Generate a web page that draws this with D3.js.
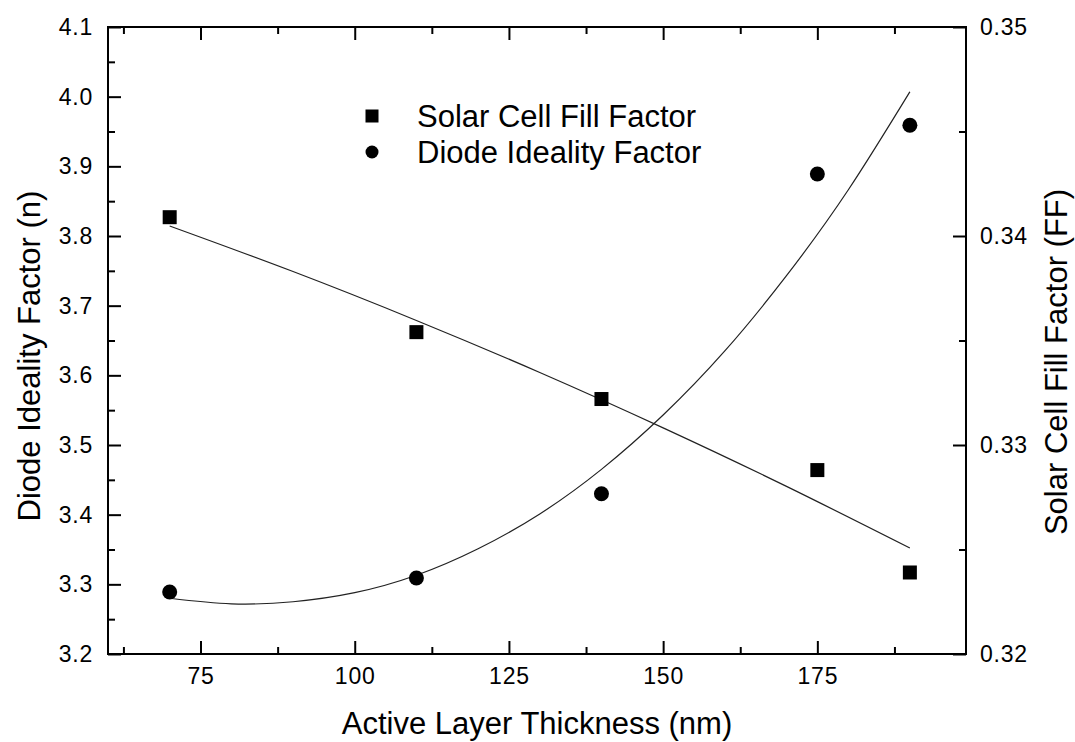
<!DOCTYPE html>
<html>
<head>
<meta charset="utf-8">
<script src="https://cdn.jsdelivr.net/npm/d3@7"></script>
<style>
  html, body { margin: 0; padding: 0; background: #fff; }
  svg { display: block; font-family: "Liberation Sans", Arial, sans-serif; }
</style>
</head>
<body>
<svg id="chart" width="1075" height="742"></svg>
<script>
// ---- data ----
const thickness = [70, 110, 140, 175, 190];
const fillFactor = [0.3409, 0.3354, 0.3322, 0.3288, 0.3239];
const ideality = [3.289, 3.309, 3.430, 3.889, 3.959];

// fitted curves
const idealityFitX = [70, 80, 90, 100, 110, 120, 130, 140, 150, 160, 170, 180, 190];
const idealityFit = [3.280, 3.272, 3.275, 3.288, 3.313, 3.351, 3.401, 3.465, 3.543, 3.635, 3.743, 3.866, 4.007];
const ffFitX = [70, 90, 110, 130, 150, 170, 190];
const ffFit = [0.34048, 0.33830, 0.33596, 0.33347, 0.33082, 0.32802, 0.32507];

// ticks
const xTicks = [75, 100, 125, 150, 175];
const xMinor = [62.5, 87.5, 112.5, 137.5, 162.5, 187.5];
const yLeftTicks = [3.2, 3.3, 3.4, 3.5, 3.6, 3.7, 3.8, 3.9, 4.0, 4.1];
const yLeftMinor = [3.25, 3.35, 3.45, 3.55, 3.65, 3.75, 3.85, 3.95, 4.05];
const yRightTicks = [0.32, 0.33, 0.34, 0.35];
const yRightMinor = [0.325, 0.335, 0.345];

const legendLabels = ["Solar Cell Fill Factor", "Diode Ideality Factor"];
const xTitle = "Active Layer Thickness (nm)";
const yLeftTitle = "Diode Ideality Factor (n)";
const yRightTitle = "Solar Cell Fill Factor (FF)";

// ---- layout ----
const L = 108, T = 27, R = 966, B = 654;
const svg = d3.select("#chart");

const x = d3.scaleLinear().domain([60, 199.1]).range([L, R]);
const yL = d3.scaleLinear().domain([3.2, 4.1]).range([B, T]);
const yR = d3.scaleLinear().domain([0.32, 0.35]).range([B, T]);

const MAJ = 13, MIN = 7;
const tickFont = "23px";
const titleFont = "31px";

function styleAxis(g) {
  g.select(".domain").remove();
  g.selectAll("line").attr("stroke", "#000").attr("stroke-width", 2);
  g.selectAll("text").attr("fill", "#000").style("font-size", tickFont)
    .style("letter-spacing", "0.8px")
    .style("font-family", '"Liberation Sans", Arial, sans-serif');
}

// bottom
svg.append("g").attr("transform", `translate(0,${B})`)
  .call(d3.axisBottom(x).tickValues(xTicks).tickSize(-MAJ).tickPadding(14).tickFormat(d3.format("d")))
  .call(styleAxis);
svg.append("g").attr("transform", `translate(0,${B})`)
  .call(d3.axisBottom(x).tickValues(xMinor).tickSize(-MIN).tickFormat(""))
  .call(styleAxis);
// top
svg.append("g").attr("transform", `translate(0,${T})`)
  .call(d3.axisTop(x).tickValues(xTicks).tickSize(-MAJ).tickFormat(""))
  .call(styleAxis);
svg.append("g").attr("transform", `translate(0,${T})`)
  .call(d3.axisTop(x).tickValues(xMinor).tickSize(-MIN).tickFormat(""))
  .call(styleAxis);
// left
svg.append("g").attr("transform", `translate(${L},0)`)
  .call(d3.axisLeft(yL).tickValues(yLeftTicks).tickSize(-MAJ).tickPadding(15).tickFormat(d3.format(".1f")))
  .call(styleAxis);
svg.append("g").attr("transform", `translate(${L},0)`)
  .call(d3.axisLeft(yL).tickValues(yLeftMinor).tickSize(-MIN).tickFormat(""))
  .call(styleAxis);
// right
svg.append("g").attr("transform", `translate(${R},0)`)
  .call(d3.axisRight(yR).tickValues(yRightTicks).tickSize(-MAJ).tickPadding(14).tickFormat(d3.format(".2f")))
  .call(styleAxis);
svg.append("g").attr("transform", `translate(${R},0)`)
  .call(d3.axisRight(yR).tickValues(yRightMinor).tickSize(-MIN).tickFormat(""))
  .call(styleAxis);

// frame
svg.append("rect").attr("x", L).attr("y", T).attr("width", R - L).attr("height", B - T)
  .attr("fill", "none").attr("stroke", "#000").attr("stroke-width", 2);

// fit curves
const lineN = d3.line().x((d, i) => x(idealityFitX[i])).y(d => yL(d)).curve(d3.curveNatural);
svg.append("path").attr("d", lineN(idealityFit)).attr("fill", "none")
  .attr("stroke", "#222").attr("stroke-width", 1.2);
const lineFF = d3.line().x((d, i) => x(ffFitX[i])).y(d => yR(d)).curve(d3.curveNatural);
svg.append("path").attr("d", lineFF(ffFit)).attr("fill", "none")
  .attr("stroke", "#222").attr("stroke-width", 1.2);

// markers
const SQ = 14, CR = 7.5;
svg.append("g").selectAll("rect").data(fillFactor).join("rect")
  .attr("x", (d, i) => x(thickness[i]) - SQ / 2)
  .attr("y", d => yR(d) - SQ / 2)
  .attr("width", SQ).attr("height", SQ).attr("fill", "#000");
svg.append("g").selectAll("circle").data(ideality).join("circle")
  .attr("cx", (d, i) => x(thickness[i]))
  .attr("cy", d => yL(d))
  .attr("r", CR).attr("fill", "#000");

// legend
const lg = svg.append("g");
lg.append("rect").attr("x", 372 - 6.5).attr("y", 116 - 6.5).attr("width", 13).attr("height", 13).attr("fill", "#000");
lg.append("circle").attr("cx", 372).attr("cy", 152).attr("r", 6.5).attr("fill", "#000");
lg.selectAll("text").data(legendLabels).join("text")
  .attr("x", 417).attr("y", (d, i) => 116 + i * 36)
  .attr("dy", "0.35em")
  .style("font-size", titleFont).attr("fill", "#000")
  .text(d => d);

// axis titles
svg.append("text").attr("x", (L + R) / 2).attr("y", 734)
  .attr("text-anchor", "middle").style("font-size", titleFont).attr("fill", "#000")
  .text(xTitle);
svg.append("text").attr("transform", `translate(40,356) rotate(-90)`)
  .attr("text-anchor", "middle").style("font-size", titleFont).attr("fill", "#000")
  .text(yLeftTitle);
svg.append("text").attr("transform", `translate(1067,362) rotate(-90)`)
  .attr("text-anchor", "middle").style("font-size", titleFont).attr("fill", "#000")
  .text(yRightTitle);
</script>
</body>
</html>
